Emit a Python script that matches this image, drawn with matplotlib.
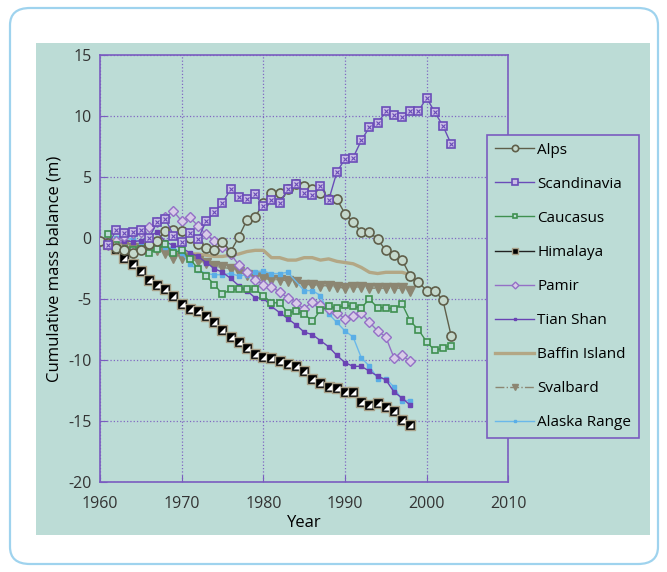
import numpy as np
import matplotlib
matplotlib.use('Agg')
import matplotlib.pyplot as plt
from matplotlib.patches import FancyBboxPatch, Rectangle

plt.rcParams['font.family'] = ['Open Sans', 'DejaVu Sans']
plt.rcParams['axes.unicode_minus'] = False

# cumulative mass balance (m)
alps_yr = list(range(1960, 2004))
alps = [-0.2, -0.4, -0.8, -1.0, -1.2, -1.0, -0.5, -0.2, 0.6, 0.7,
        0.6, 0.0, -0.5, -0.8, -1.0, -0.3, -1.1, 0.1, 1.5, 1.7,
        2.9, 3.7, 3.7, 4.0, 4.4, 4.3, 4.0, 3.7, 3.2, 3.2,
        2.0, 1.3, 0.5, 0.5, -0.1, -1.0, -1.4, -1.8, -3.1, -3.6,
        -4.3, -4.3, -5.1, -8.0]

scand_yr = list(range(1961, 2004))
scand = [-0.6, 0.7, 0.4, 0.5, 0.7, 0.0, 1.3, 1.6, 0.2, -0.3,
         0.4, -0.1, 1.4, 2.1, 2.9, 4.0, 3.4, 3.2, 3.6, 2.6,
         3.1, 2.9, 4.0, 4.4, 3.7, 3.5, 4.3, 3.1, 5.4, 6.5,
         6.6, 8.0, 9.1, 9.4, 10.4, 10.1, 9.9, 10.4, 10.4, 11.5,
         10.3, 9.2, 7.7]

cauc_yr = list(range(1961, 2004))
cauc = [0.3, -0.6, -0.9, -1.0, -0.9, -1.2, -0.9, -0.5, -1.2, -1.0,
        -1.7, -2.5, -3.1, -3.8, -4.6, -4.2, -4.2, -4.2, -4.2, -4.7,
        -5.3, -5.3, -6.1, -6.0, -6.2, -6.8, -5.9, -5.6, -5.7, -5.5,
        -5.6, -5.7, -5.0, -5.7, -5.7, -5.8, -5.4, -6.8, -7.5, -8.5,
        -9.2, -9.0, -8.8]

him_yr = list(range(1961, 1999))
him = [-0.5, -0.9, -1.6, -2.1, -2.7, -3.4, -3.8, -4.2, -4.7, -5.4,
       -5.8, -6.0, -6.4, -6.9, -7.5, -8.1, -8.5, -9.0, -9.5, -9.7,
       -9.8, -10.1, -10.3, -10.5, -10.9, -11.5, -11.9, -12.2, -12.3, -12.6,
       -12.6, -13.4, -13.7, -13.5, -13.8, -14.2, -14.9, -15.3]

pamir_yr = list(range(1961, 1999))
pamir = [-0.6, -0.2, 0.2, 0.4, 0.5, 0.9, 1.3, 1.7, 2.2, 1.4,
         1.7, 1.0, 0.3, -0.2, -0.7, -1.3, -2.2, -2.8, -3.4, -3.8,
         -4.0, -4.4, -4.9, -5.3, -5.8, -5.2, -5.5, -5.8, -6.1, -6.6,
         -6.4, -6.1, -6.9, -7.6, -8.1, -9.8, -9.6, -10.1]

tian_yr = list(range(1961, 1999))
tian = [-0.3, -0.5, -0.2, -0.3, -0.2, 0.1, 0.5, -0.3, -0.6, -0.8,
        -1.2, -1.5, -2.0, -2.5, -2.8, -3.3, -3.9, -4.3, -4.9, -4.9,
        -5.6, -6.1, -6.6, -7.1, -7.7, -7.9, -8.4, -8.9, -9.6, -10.2,
        -10.5, -10.5, -10.9, -11.3, -11.6, -12.6, -13.1, -13.7]

baffin_yr = list(range(1960, 1999))
baffin = [-0.3, -0.5, -0.7, -0.8, -0.9, -0.9, -0.9, -1.0, -1.0, -1.1,
          -1.2, -1.3, -1.3, -1.4, -1.5, -1.5, -1.4, -1.3, -1.1, -1.0,
          -1.0, -1.6, -1.6, -1.8, -1.8, -1.6, -1.6, -1.8, -1.7, -1.9,
          -2.0, -2.1, -2.4, -2.8, -2.9, -2.8, -2.8, -2.8, -3.0]

sval_yr = list(range(1961, 1999))
sval = [-0.5, -0.7, -0.6, -0.8, -0.9, -1.0, -1.0, -1.2, -1.6, -1.6,
        -1.7, -1.9, -2.0, -2.3, -2.4, -2.5, -2.8, -3.0, -3.1, -3.3,
        -3.4, -3.4, -3.5, -3.6, -3.8, -3.8, -3.9, -3.9, -4.0, -4.1,
        -4.0, -4.0, -4.1, -4.1, -4.1, -4.1, -4.1, -4.3]

alaska_yr = list(range(1961, 1984)) + list(range(1985, 1999))
alaska = [-0.4, 0.0, 0.0, -0.1, -0.3, -0.5, -0.5, -0.7, -0.8, -1.2,
          -2.1, -2.6, -2.9, -3.0, -3.0, -2.9, -3.1, -3.0, -2.8, -2.7,
          -2.9, -2.9, -2.8,
          -4.3, -4.3, -4.7, -6.2, -6.9, -7.6, -8.1, -9.8, -10.5, -11.5,
          -11.5, -12.2, -13.3, -13.3]

bg = '#bcdcd6'
purple = '#7a5cc0'

fig = plt.figure(figsize=(6.67, 5.72), dpi=100)
fig.patch.set_facecolor('white')

# rounded outer frame and coloured panel
frame = FancyBboxPatch((10/667, 8/572), 648/667, 556/572,
                       boxstyle='round,pad=0,rounding_size=0.03',
                       transform=fig.transFigure, facecolor='white',
                       edgecolor='#9fd3ee', linewidth=1.6, zorder=-2)
fig.patches.append(frame)
panel = Rectangle((36/667, (572-535)/572), 614/667, 492/572,
                  transform=fig.transFigure, facecolor=bg,
                  edgecolor='none', zorder=-1)
fig.patches.append(panel)

ax = fig.add_axes([100/667, (572-482.3)/572, 408.3/667, 427.3/572])
ax.set_facecolor(bg)

ax.plot(baffin_yr, baffin, color='#b3a785', lw=2.4, label='Baffin Island', zorder=2)
ax.plot(sval_yr, sval, color='#8c8672', lw=1, ls='-.', marker='v', ms=7,
        mfc='#8c8672', mec='#8c8672', label='Svalbard', zorder=3)
ax.plot(alaska_yr, alaska, color='#6ab8ea', lw=1, marker='s', ms=2.5,
        mfc='#5aaee6', mec='#5aaee6', label='Alaska Range', zorder=3)
ax.plot(tian_yr, tian, color='#6a44b4', lw=1, marker='s', ms=3,
        mfc='#6a44b4', mec='#6a44b4', label='Tian Shan', zorder=3)
ax.plot(pamir_yr, pamir, color='#9470c6', lw=1, marker='D', ms=5,
        mfc='#d8cce8', mec='#9470c6', mew=1, label='Pamir', zorder=3)
ax.plot(cauc_yr, cauc, color='#3f9050', lw=1, marker='s', ms=5,
        mfc=bg, mec='#3f9050', mew=1.2, label='Caucasus', zorder=3)
ax.plot(him_yr, him, color='#222222', lw=1, marker='s', ms=7,
        mfc='black', mec='#a8a088', mew=1, label='Himalaya', zorder=4)
ax.plot(him_yr, him, ls='none', marker=[(1, 1), (1, -1), (-1, -1)], ms=4,
        mfc='white', mec='none', zorder=4.5)
ax.plot(alps_yr, alps, color='#5f5f4a', lw=1, marker='o', ms=6.5,
        mfc='#c4d8cc', mec='#5f5f4a', mew=1.2, label='Alps', zorder=5)
ax.plot(scand_yr, scand, color='#6a4cb8', lw=1, marker='s', ms=6.2,
        mfc='#c9bde6', mec='#6a4cb8', mew=1.2, label='Scandinavia', zorder=6)
ax.plot(scand_yr, scand, ls='none', marker='x', ms=3.5, mec='#6a4cb8',
        mew=0.8, zorder=6.5)

ax.set_xlim(1960, 2010)
ax.set_ylim(-20, 15)
ax.set_xticks(range(1960, 2011, 10))
ax.set_yticks(range(-20, 16, 5))
ax.grid(True, color=purple, ls=':', lw=0.9, alpha=0.9)
ax.set_axisbelow(True)
for s in ax.spines.values():
    s.set_color(purple)
    s.set_linewidth(1.2)
ax.tick_params(direction='in', color=purple, length=5, labelsize=11.5,
               labelcolor='#333333', pad=6)
ax.tick_params(axis='x', pad=10)
ax.set_xlabel('Year', fontsize=12, labelpad=2)
ax.set_ylabel('Cumulative mass balance (m)', fontsize=12, labelpad=4)

h, l = ax.get_legend_handles_labels()
order = ['Alps', 'Scandinavia', 'Caucasus', 'Himalaya', 'Pamir', 'Tian Shan',
         'Baffin Island', 'Svalbard', 'Alaska Range']
hl = {lab: hh for hh, lab in zip(h, l)}
leg = fig.legend([hl[o] for o in order], order,
                 loc='upper left', bbox_to_anchor=(487/667, (572-135)/572),
                 fontsize=11, frameon=True, fancybox=False,
                 handlelength=2.6, labelspacing=1.25, borderpad=0.5,
                 handletextpad=0.2, borderaxespad=0, markerscale=0.7)
leg.get_frame().set_facecolor(bg)
leg.get_frame().set_edgecolor(purple)
leg.get_frame().set_linewidth(1.2)
leg.get_frame().set_alpha(1)
leg.set_zorder(10)

fig.savefig('out.png', dpi=100)
